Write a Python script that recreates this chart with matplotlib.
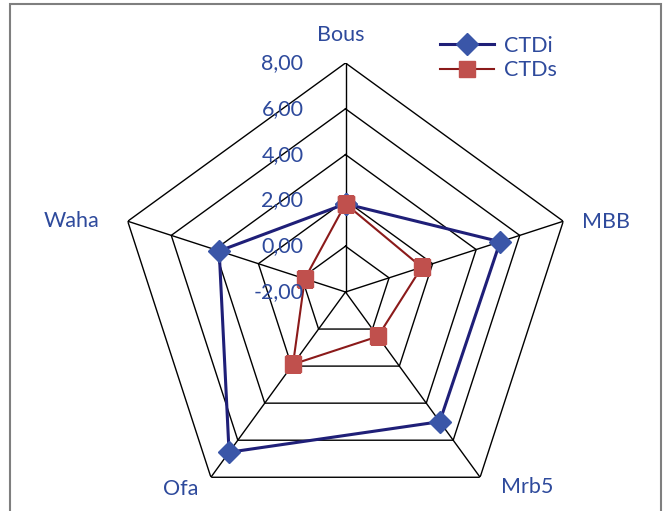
import numpy as np
import matplotlib
matplotlib.use("Agg")
import matplotlib.pyplot as plt
from matplotlib.transforms import offset_copy
from matplotlib.patches import Rectangle

categories = ["Bous", "MBB", "Mrb5", "Ofa", "Waha"]
ctdi = [1.85, 5.1, 5.0, 6.65, 3.8]
ctds = [1.85, 1.5, 0.4, 1.9, -0.13]
rticks = [-2, 0, 2, 4, 6, 8]
rtick_labels = ["-2,00", "0,00", "2,00", "4,00", "6,00", "8,00"]

W, H = 663, 511
fig = plt.figure(figsize=(W / 100, H / 100), dpi=100)
plt.rcParams['font.family'] = ['Lato', 'DejaVu Sans']
FS = 15.5

cx, cy, R = 345.5, 292, 229
ax = fig.add_axes([(cx - R) / W, 1 - (cy + R) / H, 2 * R / W, 2 * R / H], projection='polar')
ax.set_theta_offset(np.pi / 2)
ax.set_theta_direction(-1)
ax.set_ylim(-2, 8)
ax.grid(False)
ax.set_xticks([])
ax.set_yticks([])
ax.spines['polar'].set_visible(False)
ax.patch.set_visible(False)

n = len(categories)
theta = np.arange(n) * 2 * np.pi / n
theta_c = np.append(theta, theta[0])

# polygon grid
for r in rticks[1:]:
    ax.plot(theta_c, [r] * (n + 1), color='black', lw=1.0, zorder=1)
for t in theta:
    ax.plot([t, t], [-2, 8], color='black', lw=1.0, zorder=1)

text_color = '#2E4A9C'

ax.plot(theta_c, ctds + [ctds[0]], color='#8B1A1A', lw=1.5, marker='s', ms=11,
        mfc='#C0504D', mec='#C0504D', label='CTDs', zorder=3)
ax.plot(theta_c, ctdi + [ctdi[0]], color='#1F1F78', lw=2.2, marker='D', ms=11,
        mfc='#3A56A8', mec='#3A56A8', label='CTDi', zorder=2)

# radial tick labels
tr = offset_copy(ax.transData, fig=fig, x=-42, y=0, units='dots')
for v, lab in zip(rticks, rtick_labels):
    ax.text(0, v, lab, transform=tr, ha='right', va='center', fontsize=FS, color=text_color)

# category labels (pixel positions)
label_pos = {"Bous": (341, 35), "MBB": (606, 222), "Mrb5": (527, 487), "Ofa": (181, 489), "Waha": (72, 221)}
for c in categories:
    x, y = label_pos[c]
    fig.text(x / W, 1 - y / H, c, ha='center', va='center', fontsize=FS, color=text_color)

handles, labels = ax.get_legend_handles_labels()
leg = fig.legend(handles[::-1], labels[::-1], loc='upper left',
                 bbox_to_anchor=(440 / W, 1 - 36 / H), frameon=False, fontsize=FS,
                 handlelength=2.5, handletextpad=0.45, labelspacing=0.2, borderaxespad=0,
                 borderpad=0)
for t in leg.get_texts():
    t.set_color(text_color)

fig.patches.append(Rectangle((10 / W, -0.05), 651 / W, 1.05 - 4 / H, transform=fig.transFigure,
                             fill=False, ec='#7F7F7F', lw=1.5))

fig.savefig('out.png', dpi=100)
